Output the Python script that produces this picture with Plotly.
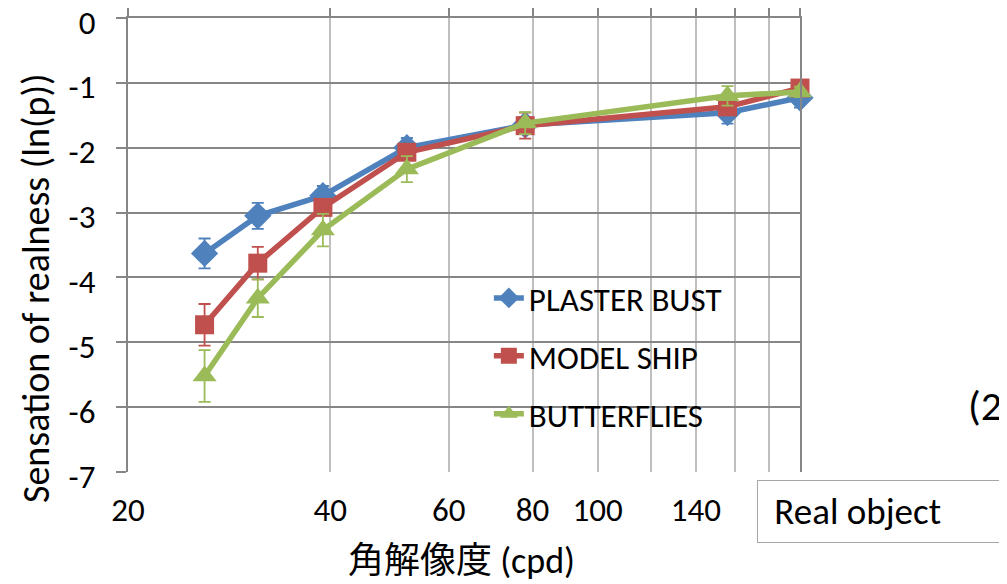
import plotly.graph_objects as go
import math

# ---- data ----
resolution_cpd = [26, 31.2, 39, 52, 78, 156, 200]   # last point = Real object
plaster_bust = [-3.63, -3.05, -2.74, -2.00, -1.65, -1.46, -1.23]
plaster_err = [0.23, 0.20, 0.15, 0.15, 0.12, 0.17, 0.15]
model_ship = [-4.73, -3.78, -2.92, -2.07, -1.66, -1.37, -1.08]
model_err = [0.32, 0.25, 0.12, 0.12, 0.20, 0.12, 0.08]
butterflies = [-5.52, -4.32, -3.27, -2.33, -1.62, -1.20, -1.14]
butter_err = [0.40, 0.29, 0.25, 0.20, 0.17, 0.15, 0.08]

grid_vals = [20, 40, 60, 80, 100, 120, 140, 160, 180, 200]
grid_text = ["20", "40", "60", "80", "100", "", "140", "", "", ""]
y_ticks = [0, -1, -2, -3, -4, -5, -6, -7]
y_text = ["0", "-1", "-2", "-3", "-4", "-5", "-6", "-7"]

FONT = "Carlito, Liberation Sans Narrow, Open Sans, Noto Sans CJK JP, sans-serif"

series = [
    ("PLASTER BUST", plaster_bust, plaster_err, "#4F81BD", "diamond", 21),
    ("MODEL SHIP", model_ship, model_err, "#C0504D", "square", 19),
    ("BUTTERFLIES", butterflies, butter_err, "#9BBB59", "triangle-up", 21),
]

fig = go.Figure()
for i, (name, ys, es, col, sym, ms) in enumerate(series):
    fig.add_trace(go.Scatter(
        x=resolution_cpd, y=ys, name=name, mode="lines+markers",
        legendgroup=f"g{i}",
        line=dict(color=col, width=5.5),
        marker=dict(symbol=sym, size=ms, color=col, line=dict(width=0)),
        error_y=dict(type="data", array=es, visible=True, color=col, thickness=1.8, width=6),
        cliponaxis=False,
    ))

# invisible trace to render the top axis ticks
fig.add_trace(go.Scatter(x=[20, 200], y=[0, 0], xaxis="x2", mode="lines",
                         line=dict(width=0), showlegend=False, hoverinfo="skip"))

PW, PH = 672, 454   # plot area size in px
def px(xp):  # page x -> paper
    return (xp - 128) / PW
def py(yp):  # page y -> paper
    return (472 - yp) / PH

fig.update_layout(
    width=1007, height=584,
    margin=dict(l=120, r=215, t=10, b=120, autoexpand=False),
    paper_bgcolor="white", plot_bgcolor="white",
    font=dict(family=FONT, size=33, color="black"),
    showlegend=True,
    legend=dict(x=0.537, y=0.445, xanchor="left", yanchor="top",
                bgcolor="rgba(0,0,0,0)", font=dict(size=33, family=FONT),
                tracegroupgap=12),
    xaxis=dict(type="log", range=[math.log10(20), math.log10(200)],
               tickvals=grid_vals, ticktext=grid_text,
               showgrid=True, gridcolor="#BFBFBF", gridwidth=2,
               ticks="outside", ticklen=8, tickcolor="rgba(0,0,0,0)",
               showline=False, zeroline=False, automargin=False,
               tickfont=dict(size=33), ticklabeloverflow="allow"),
    xaxis2=dict(type="log", range=[math.log10(20), math.log10(200)],
                overlaying="x", side="top", anchor="y", automargin=False,
                tickvals=grid_vals, showticklabels=False,
                ticks="outside", ticklen=8, tickcolor="#868686", tickwidth=2,
                showgrid=False, showline=True, linecolor="#868686", linewidth=2,
                mirror=False),
    yaxis=dict(range=[-7, 0], tickvals=y_ticks, ticktext=y_text,
               showgrid=True, gridcolor="#868686", gridwidth=2,
               ticks="outside", ticklen=10, tickcolor="#868686", tickwidth=2,
               showline=True, linecolor="#868686", linewidth=2, mirror=True,
               zeroline=False, automargin=False, tickfont=dict(size=33),
               ticklabeloverflow="allow", ticklabelstandoff=14, ticklabelshift=4),
)

# axis titles as annotations for exact placement
fig.add_annotation(xref="paper", yref="paper", x=px(36), y=py(288),
                   xanchor="center", yanchor="middle", textangle=-90,
                   text="Sensation of realness (ln(p))", showarrow=False,
                   font=dict(size=38, family=FONT))
fig.add_annotation(xref="paper", yref="paper", x=px(461), y=py(561),
                   xanchor="center", yanchor="middle",
                   text="角解像度 (cpd)", showarrow=False,
                   font=dict(size=36, family=FONT))

fig.add_annotation(xref="paper", yref="paper", x=px(757), y=py(480),
                   xanchor="left", yanchor="top", text="&nbsp;Real object",
                   showarrow=False, align="left",
                   font=dict(size=37, family=FONT),
                   bordercolor="#A6A6A6", borderwidth=1, borderpad=8,
                   bgcolor="white", width=300)
fig.add_annotation(xref="paper", yref="paper", x=px(966), y=py(405),
                   xanchor="left", yanchor="middle", text="(2", showarrow=False,
                   font=dict(size=42, family=FONT))

fig.write_html("out.html")
